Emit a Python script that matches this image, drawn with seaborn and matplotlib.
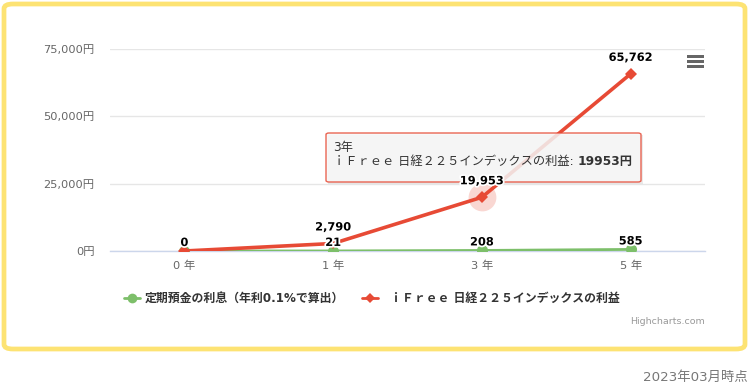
import matplotlib
matplotlib.use("Agg")
import matplotlib.pyplot as plt
import matplotlib.patheffects as pe
from matplotlib.patches import FancyBboxPatch, Rectangle
from matplotlib.text import Annotation
import seaborn as sns
import pandas as pd
import numpy as np

categories = ["0 年", "1 年", "3 年", "5 年"]
deposit_values = [0, 21, 208, 585]
ifree_values = [0, 2790, 19953, 65762]
deposit_name = "定期預金の利息（年利0.1%で算出）"
ifree_name = "ｉＦｒｅｅ 日経２２５インデックスの利益"
y_ticks = [0, 25000, 50000, 75000]
y_tick_labels = ["0円", "25,000円", "50,000円", "75,000円"]

sns.set_theme(style="white")
FONTS = ["DejaVu Sans", "Noto Sans CJK JP"]
plt.rcParams["font.family"] = FONTS

W, H = 750, 385
fig = plt.figure(figsize=(7.5, 3.85), dpi=100)
fig.patch.set_facecolor("white")

def fx(x):
    return x / W

def fy(y):
    return 1 - y / H

PX = 72 / 100  # points per pixel

# yellow rounded frame
frame = FancyBboxPatch((fx(4), fy(349)), fx(741), (349 - 4) / H,
                       boxstyle="round,pad=0,rounding_size=0.012",
                       transform=fig.transFigure, facecolor="none",
                       edgecolor="#fde373", linewidth=3.4, zorder=-1)
fig.add_artist(frame)

left, right, top, bottom = 110, 705, 49, 251
ax = fig.add_axes([fx(left), fy(bottom), fx(right - left), (bottom - top) / H])
ax.set_facecolor("none")

green = "#7dbf6a"
red = "#e74a35"

x = np.arange(len(categories))
df_dep = pd.DataFrame({"x": x, "y": deposit_values})
df_if = pd.DataFrame({"x": x, "y": ifree_values})

sns.lineplot(data=df_dep, x="x", y="y", ax=ax, color=green, linewidth=2,
             marker="o", markersize=8, markeredgewidth=0, zorder=3)
sns.lineplot(data=df_if, x="x", y="y", ax=ax, color=red, linewidth=2.6,
             marker="D", markersize=6, markeredgewidth=0, zorder=4)

# halo at hovered point
ax.plot([2], [ifree_values[2]], marker="o", markersize=20, color=red,
        alpha=0.22, markeredgewidth=0, zorder=2)

ax.set_xlim(-0.5, 3.5)
ax.set_ylim(0, 75000)
ax.set_xlabel("")
ax.set_ylabel("")
ax.set_yticks(y_ticks)
ax.set_yticklabels(y_tick_labels, color="#666666", fontsize=8.2)
ax.set_xticks(x)
ax.set_xticklabels(categories, color="#666666", fontsize=8.2)
ax.set_xticks(np.arange(-0.5, 4, 1), minor=True)
ax.tick_params(axis="x", which="major", length=0, pad=7)
ax.tick_params(axis="x", which="minor", length=7, color="#ccd6eb", width=1)
ax.tick_params(axis="y", length=0, pad=11)
ax.grid(axis="y", color="#e6e6e6", linewidth=1)
ax.set_axisbelow(True)
for s in ["top", "right", "left"]:
    ax.spines[s].set_visible(False)
ax.spines["bottom"].set_color("#ccd6eb")
ax.spines["bottom"].set_linewidth(1)

outline = [pe.withStroke(linewidth=2.5, foreground="white")]
def label(xi, yi, txt, off_px):
    a = Annotation(txt, (xi, yi), xycoords=ax.transData,
                   xytext=(0, off_px * PX), textcoords="offset points",
                   ha="center", va="center", fontsize=8.2, fontweight="bold",
                   color="black", path_effects=outline,
                   annotation_clip=False)
    a.set_zorder(10)
    fig.add_artist(a)

# red labels (the zero label is hidden by the overlapping green one)
for xi, v in zip(x[1:], ifree_values[1:]):
    label(xi, v, f"{v:,}", 16)
for xi, v in zip(x, deposit_values):
    label(xi, v, f"{v:,}", 8)

# tooltip
tx0, ty0, tx1, ty1 = 326, 133, 641, 182
shadow = Rectangle((fx(tx0 + 2), fy(ty1 + 2)), fx(tx1 - tx0), (ty1 - ty0) / H,
                   transform=fig.transFigure, facecolor="#000000", alpha=0.08,
                   edgecolor="none", zorder=7)
fig.add_artist(shadow)
tip = FancyBboxPatch((fx(tx0), fy(ty1)), fx(tx1 - tx0), (ty1 - ty0) / H,
                     boxstyle="round,pad=0,rounding_size=0.004",
                     transform=fig.transFigure, facecolor="#f7f7f7", alpha=0.85,
                     edgecolor=red, linewidth=1, zorder=8)
fig.add_artist(tip)
fig.text(fx(333), fy(147), "3年", fontsize=8.8, color="#333333", va="center",
         ha="left", zorder=9)
t1 = fig.text(fx(333), fy(162), ifree_name + ": ", fontsize=8.8,
              color="#333333", va="center", ha="left", zorder=9)
bold_part = Annotation("19953円", xy=(1, 0.5), xycoords=t1, va="center",
                       ha="left", fontsize=8.8, fontweight="bold",
                       color="#333333", annotation_clip=False)
bold_part.set_zorder(9)
fig.add_artist(bold_part)

# hamburger menu icon
for yy in [56, 61, 66]:
    fig.add_artist(Rectangle((fx(687), fy(yy + 1.5)), fx(17), 3 / H,
                             transform=fig.transFigure,
                             facecolor="#666666", edgecolor="none"))

# legend
leg_y = 298
fig.add_artist(plt.Line2D([fx(124), fx(140)], [fy(leg_y), fy(leg_y)],
                          transform=fig.transFigure, color=green, linewidth=2))
fig.add_artist(plt.Line2D([fx(132)], [fy(leg_y)], transform=fig.transFigure,
                          color=green, marker="o", markersize=7,
                          markeredgewidth=0))
fig.text(fx(145), fy(leg_y), deposit_name, fontsize=8.6, fontweight="bold",
         color="#333333", va="center", ha="left")
fig.add_artist(plt.Line2D([fx(362), fx(378)], [fy(leg_y), fy(leg_y)],
                          transform=fig.transFigure, color=red, linewidth=2))
fig.add_artist(plt.Line2D([fx(370)], [fy(leg_y)], transform=fig.transFigure,
                          color=red, marker="D", markersize=5,
                          markeredgewidth=0))
fig.text(fx(390), fy(leg_y), ifree_name, fontsize=8.6, fontweight="bold",
         color="#333333", va="center", ha="left")

fig.text(fx(705), fy(321), "Highcharts.com", fontsize=6.8, color="#999999",
         va="center", ha="right")
fig.text(fx(748), fy(377), "2023年03月時点", fontsize=9.6, color="#777777",
         va="center", ha="right")

fig.savefig("out.png", dpi=100)
